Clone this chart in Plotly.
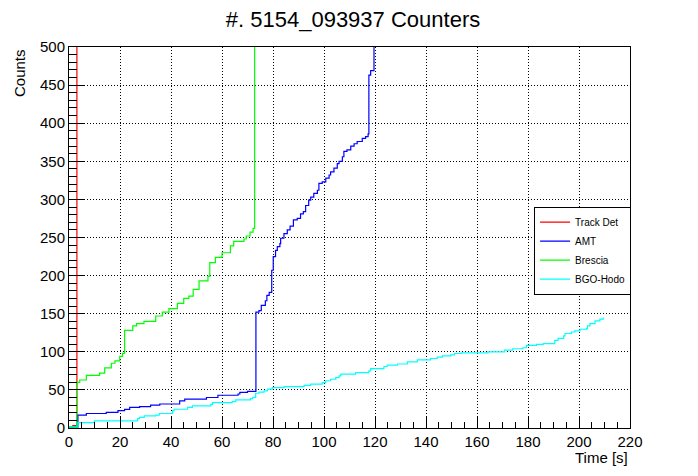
import plotly.graph_objects as go

# cumulative counters (step starts: time [s], counts)
track_t = [0, 1.5, 3.1]
track_n = [0, 3, 530]

amt_t = [0, 3.5, 6.8, 14.6, 19.2, 21.8, 23.8, 27.7, 32.0, 35.6, 43.4, 45.4, 53.9, 58.4,
         66.3, 67.0, 70.0, 73.3, 74.5, 75.4, 77.0, 77.6, 78.5, 79.5, 80.1, 81.0, 81.7,
         82.7, 83.0, 84.3, 85.6, 86.7, 88.0, 89.5, 90.8, 91.9, 92.8, 94.0, 94.8, 96.0,
         97.4, 98.0, 99.3, 100.7, 102.0, 102.6, 103.9, 105.2, 105.9, 107.2, 107.8, 109.0,
         110.5, 111.8, 113.0, 115.0, 116.3, 117.3, 117.6, 118.3, 119.6]
amt_n = [1, 17, 19, 20.5, 22.7, 24.4, 27, 28, 30, 31.5, 35.7, 37.8, 40, 43,
         44.6, 46.8, 48, 152, 154, 161, 167, 174, 178, 207, 225, 233, 238,
         242, 249, 255, 260, 265, 273, 275, 281, 284, 292, 299, 303, 308,
         312, 321, 323, 328, 332, 336, 341, 347, 350, 356, 363, 365,
         370, 373, 376, 380, 382.5, 386, 463, 469, 530]

brescia_t = [0, 3.0, 4.2, 6.8, 12.0, 14.0, 16.6, 18.0, 19.9, 21.0, 21.8, 25.0, 26.5, 29.4,
             34.0, 36.6, 39.2, 42.5, 45.0, 47.0, 48.7, 51.0, 54.5, 55.2, 57.4, 60.0, 63.3,
             64.6, 68.6, 69.5, 71.0, 72.2, 72.8]
brescia_n = [2, 60, 63, 69, 72, 79, 85, 88, 94, 98, 128, 134, 137, 140,
             147, 152, 156.6, 163.6, 170, 173, 182, 193, 199, 217, 224, 230, 239,
             245, 248, 252, 257, 262, 530]

bgo_t = [0, 3.5, 9.9, 26.9, 27.6, 29.5, 34.0, 35.4, 40.6, 41.2, 46.5, 48.4, 55.6, 56.3,
         64.0, 65.4, 71.2, 72.0, 73.2, 74.5, 76.5, 77.8, 79.7, 84.3, 92.2, 94.8, 99.3,
         100.7, 102.6, 104.6, 105.9, 106.6, 112.4, 117.6, 118.3, 123.5, 124.8, 128.8,
         132.7, 136.6, 141.8, 144.4, 146.4, 149.7, 151.2, 153.8, 164.3, 170.8, 174.0,
         178.0, 179.4, 183.3, 186.0, 190.5, 191.8, 194.0, 194.5, 197.0, 198.4, 200.4,
         203.0, 203.3, 204.3, 206.3, 208.2, 209.5]
bgo_n = [1, 7, 9.3, 12.4, 14, 16, 17, 19, 22.4, 24.6, 27, 29, 31, 33.4,
         34.7, 37, 38.6, 40, 45.6, 47, 48.7, 51, 53, 54.4, 56, 57.5, 59.6,
         62, 64, 66, 68.4, 70.6, 72.8, 75, 78, 80.7, 82.5, 84,
         86.8, 89.5, 91.2, 93, 94.7, 96, 97.8, 98.7, 100, 102.2, 104,
         105.3, 108.4, 109.7, 110.6, 115, 117.7, 120.8, 124, 126, 127.4, 129.6,
         130.5, 134, 137, 140.7, 143, 145]

series = [
    ("Track Det", track_t, track_n, "#ff0000"),
    ("AMT", amt_t, amt_n, "#0000ff"),
    ("Brescia", brescia_t, brescia_n, "#00ff00"),
    ("BGO-Hodo", bgo_t, bgo_n, "#00ffff"),
]

FONT = "Liberation Sans, Arial, sans-serif"

fig = go.Figure()
for name, t, n, col in series:
    fig.add_trace(go.Scatter(x=t, y=n, name=name, mode="lines",
                             line=dict(shape="hv", color=col, width=1.2)))

# page body adds 8px on top/left, so the figure is 8px smaller
fig.update_layout(
    width=690, height=468,
    margin=dict(l=61, r=68, t=39, b=48),
    paper_bgcolor="white", plot_bgcolor="white",
    font=dict(family=FONT, color="black", size=15),
    title=dict(text="#. 5154_093937 Counters", x=0.5, xanchor="center",
               y=1 - 11 / 468, yanchor="middle", font=dict(size=22)),
    showlegend=True,
    legend=dict(x=0.829, y=0.581, xanchor="left", yanchor="top",
                bgcolor="white", bordercolor="black", borderwidth=1,
                font=dict(size=10), itemwidth=30, tracegroupgap=0),
)

fig.update_xaxes(range=[0, 220], dtick=20, showline=True, linecolor="black",
                 linewidth=1, mirror=True, ticks="inside", ticklen=11,
                 tickcolor="black", showgrid=True, gridcolor="black",
                 griddash="1px,2px", gridwidth=1, zeroline=False,
                 minor=dict(ticks="inside", dtick=5, ticklen=6, tickcolor="black",
                            showgrid=False))
fig.update_yaxes(range=[0, 500], dtick=50, showline=True, linecolor="black",
                 linewidth=1, mirror=True, ticks="inside", ticklen=16,
                 tickcolor="black", showgrid=True, gridcolor="black",
                 griddash="1px,2px", gridwidth=1, zeroline=False,
                 minor=dict(ticks="inside", dtick=10, ticklen=8, tickcolor="black",
                            showgrid=False))

fig.add_annotation(text="Counts", xref="paper", yref="paper", x=0, y=1,
                   xanchor="center", yanchor="top", xshift=-50, textangle=-90,
                   showarrow=False, font=dict(size=15))
fig.add_annotation(text="Time [s]", xref="paper", yref="paper", x=1, y=0,
                   xanchor="right", yanchor="top", yshift=-19,
                   showarrow=False, font=dict(size=15))

fig.write_html("out.html")
